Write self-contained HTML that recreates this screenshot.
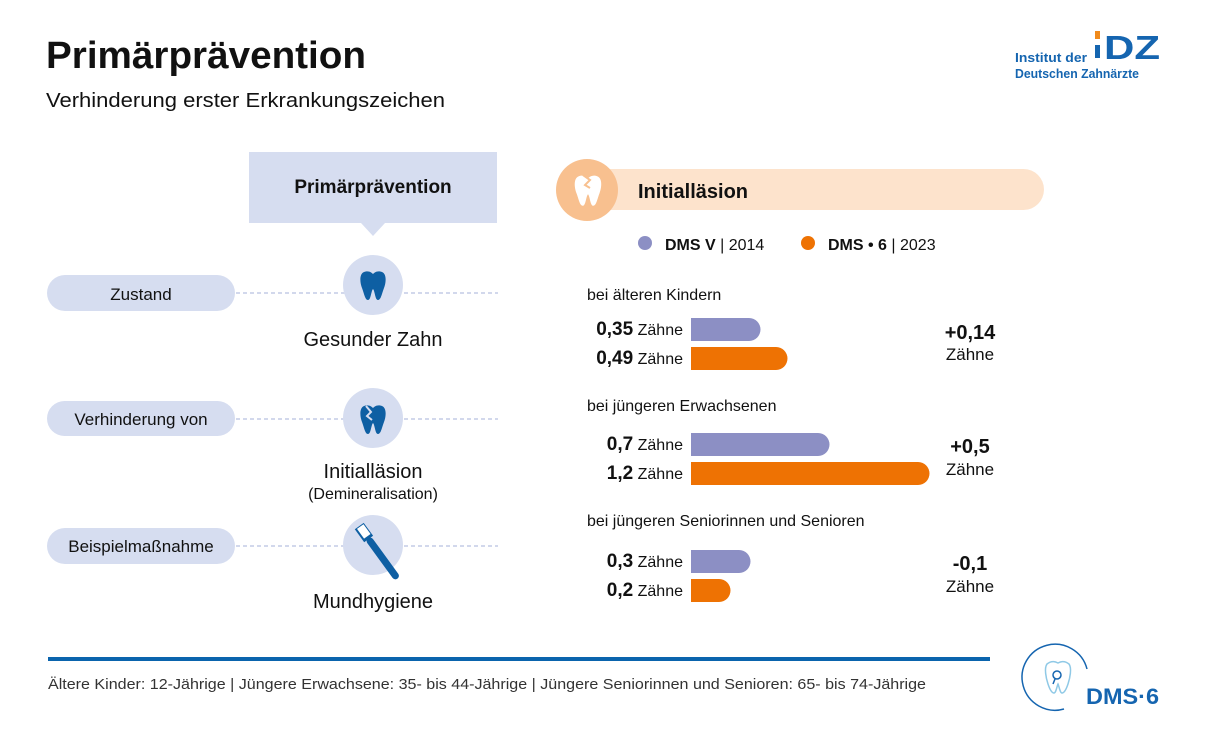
<!DOCTYPE html>
<html><head><meta charset="utf-8"><style>
html,body{margin:0;padding:0;background:#fff}
svg{display:block}
text{font-family:"Liberation Sans",sans-serif;fill:#111}
.b{font-weight:bold}
</style></head><body>
<svg width="1208" height="754" viewBox="0 0 1208 754" xmlns="http://www.w3.org/2000/svg">
<defs>
<path id="tooth" d="M-9,-13 C-4,-15 -1,-12 0,-11 C1,-12 4,-15 9,-13 C14,-11 13,-2 11,3 C9,8 8,15 5,15 C2,15 2,6 0,4 C-2,6 -2,15 -5,15 C-8,15 -9,8 -11,3 C-13,-2 -14,-11 -9,-13 Z"/>
</defs>
<text x="46" y="68" class="b" font-size="38" textLength="320" lengthAdjust="spacingAndGlyphs">Primärprävention</text>
<text x="46" y="107" font-size="20" textLength="399" lengthAdjust="spacingAndGlyphs">Verhinderung erster Erkrankungszeichen</text>
<text x="1015" y="62" font-size="13" style="fill:#1565b0" class="b" textLength="72" lengthAdjust="spacingAndGlyphs">Institut der</text>
<text x="1015" y="78" font-size="13" style="fill:#1565b0" class="b" textLength="124" lengthAdjust="spacingAndGlyphs">Deutschen Zahnärzte</text>
<rect x="1095" y="31" width="5" height="8" fill="#f08a1c"/>
<rect x="1095" y="45" width="5" height="13" fill="#1565b0"/>
<text x="1104" y="59" class="b" font-size="33" style="fill:#1565b0" textLength="56" lengthAdjust="spacingAndGlyphs">DZ</text>
<rect x="249" y="152" width="248" height="71" fill="#d6ddf0"/>
<path d="M361,223 L373,236 L385,223 Z" fill="#d6ddf0"/>
<text x="373" y="193" text-anchor="middle" class="b" font-size="19">Primärprävention</text>
<g stroke="#c4cbe6" stroke-width="1.5" stroke-dasharray="4,3">
<line x1="236" y1="293" x2="498" y2="293"/>
<line x1="236" y1="419" x2="498" y2="419"/>
<line x1="236" y1="546" x2="498" y2="546"/>
</g>
<g fill="#d6ddf0">
<rect x="47" y="275" width="188" height="36" rx="18"/>
<rect x="47" y="401" width="188" height="35" rx="17.5"/>
<rect x="47" y="528" width="188" height="36" rx="18"/>
<circle cx="373" cy="285" r="30"/>
<circle cx="373" cy="418" r="30"/>
<circle cx="373" cy="545" r="30"/>
</g>
<text x="141" y="300" text-anchor="middle" font-size="17">Zustand</text>
<text x="141" y="425" text-anchor="middle" font-size="17">Verhinderung von</text>
<text x="141" y="552" text-anchor="middle" font-size="17">Beispielmaßnahme</text>
<use href="#tooth" transform="translate(373,285)" fill="#0e5fa3"/>
<use href="#tooth" transform="translate(373,419)" fill="#0e5fa3"/>
<path d="M366,406 L371,412 L367,416 L372,420" stroke="#d6ddf0" stroke-width="2" fill="none"/>
<g transform="translate(381,556) rotate(-36)">
<rect x="-3.5" y="-22" width="7" height="50" rx="3.5" fill="#0e5fa3"/>
<rect x="-5.5" y="-37" width="11" height="16" fill="#0e5fa3"/>
<rect x="-3.5" y="-36" width="8" height="12" fill="#fff"/>
</g>
<text x="373" y="346" text-anchor="middle" font-size="20">Gesunder Zahn</text>
<text x="373" y="478" text-anchor="middle" font-size="20">Initialläsion</text>
<text x="373" y="499" text-anchor="middle" font-size="16">(Demineralisation)</text>
<text x="373" y="608" text-anchor="middle" font-size="20">Mundhygiene</text>
<rect x="570" y="169" width="474" height="41" rx="20.5" fill="#fde3cc"/>
<circle cx="587" cy="190" r="31" fill="#f8c08f"/>
<use href="#tooth" transform="translate(588,190) scale(1.05)" fill="#fff"/>
<path d="M583,175 L590,180 L585,185 L590,188" stroke="#f8c08f" stroke-width="2" fill="none"/>
<text x="638" y="198" class="b" font-size="20">Initialläsion</text>
<circle cx="645" cy="243" r="7" fill="#8c8fc4"/>
<text x="665" y="250" font-size="16"><tspan class="b">DMS V</tspan> | 2014</text>
<circle cx="808" cy="243" r="7" fill="#ee7203"/>
<text x="828" y="250" font-size="16"><tspan class="b">DMS • 6</tspan> | 2023</text>
<text x="587" y="300" font-size="16">bei älteren Kindern</text>
<text x="587" y="411" font-size="16">bei jüngeren Erwachsenen</text>
<text x="587" y="526" font-size="16">bei jüngeren Seniorinnen und Senioren</text>
<g>
<path d="M691,318 H749 A11.5,11.5 0 0 1 749,341 H691 Z" fill="#8c8fc4"/>
<path d="M691,347 H776 A11.5,11.5 0 0 1 776,370 H691 Z" fill="#ee7203"/>
<path d="M691,433 H818 A11.5,11.5 0 0 1 818,456 H691 Z" fill="#8c8fc4"/>
<path d="M691,462 H918 A11.5,11.5 0 0 1 918,485 H691 Z" fill="#ee7203"/>
<path d="M691,550 H739 A11.5,11.5 0 0 1 739,573 H691 Z" fill="#8c8fc4"/>
<path d="M691,579 H719 A11.5,11.5 0 0 1 719,602 H691 Z" fill="#ee7203"/>
</g>
<g font-size="16" text-anchor="end">
<text x="683" y="335"><tspan class="b" font-size="19">0,35</tspan> Zähne</text>
<text x="683" y="364"><tspan class="b" font-size="19">0,49</tspan> Zähne</text>
<text x="683" y="450"><tspan class="b" font-size="19">0,7</tspan> Zähne</text>
<text x="683" y="479"><tspan class="b" font-size="19">1,2</tspan> Zähne</text>
<text x="683" y="567"><tspan class="b" font-size="19">0,3</tspan> Zähne</text>
<text x="683" y="596"><tspan class="b" font-size="19">0,2</tspan> Zähne</text>
</g>
<g text-anchor="middle">
<text x="970" y="339" class="b" font-size="20">+0,14</text>
<text x="970" y="360" font-size="17">Zähne</text>
<text x="970" y="453" class="b" font-size="20">+0,5</text>
<text x="970" y="475" font-size="17">Zähne</text>
<text x="970" y="570" class="b" font-size="20">-0,1</text>
<text x="970" y="592" font-size="17">Zähne</text>
</g>
<rect x="48" y="657" width="942" height="4" fill="#0a64ad"/>
<text x="48" y="689" font-size="15" style="fill:#333" textLength="878" lengthAdjust="spacingAndGlyphs">Ältere Kinder: 12-Jährige | Jüngere Erwachsene: 35- bis 44-Jährige | Jüngere Seniorinnen und Senioren: 65- bis 74-Jährige</text>
<path d="M1087,669 A33,33 0 1 0 1064,709" stroke="#1565b0" stroke-width="1.5" fill="none"/>
<path d="M1047,664 C1052,660 1056,662 1058,663 C1060,662 1064,660 1069,664 C1072,668 1070,678 1068,684 C1066,690 1064,693 1062,693 C1060,693 1059,686 1058,684 C1057,686 1056,693 1054,693 C1052,693 1050,690 1048,684 C1046,678 1044,668 1047,664 Z" stroke="#8fc9e6" stroke-width="1.5" fill="none"/>
<circle cx="1057" cy="675" r="4" stroke="#1565b0" stroke-width="1.5" fill="none"/>
<line x1="1055" y1="679" x2="1053" y2="684" stroke="#1565b0" stroke-width="1.5"/>
<text x="1086" y="704" class="b" font-size="22" style="fill:#1565b0" textLength="73" lengthAdjust="spacingAndGlyphs">DMS·6</text>
</svg>
</body></html>
